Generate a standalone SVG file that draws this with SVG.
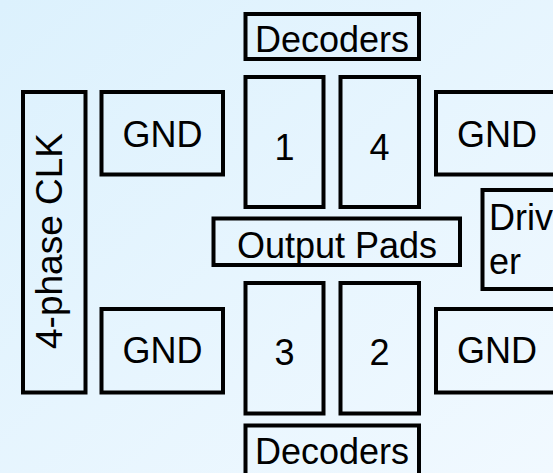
<svg xmlns="http://www.w3.org/2000/svg" width="553" height="473" viewBox="0 0 553 473">
<defs>
<linearGradient id="bg" x1="0" y1="0" x2="1" y2="1">
<stop offset="0" stop-color="#dcf1fd"/>
<stop offset="1" stop-color="#f1f9ff"/>
</linearGradient>
<style>
rect.b{fill:none;stroke:#000;stroke-width:4}
text{font-family:"Liberation Sans",Arial,sans-serif;font-size:36px;fill:#000}
.c{text-anchor:middle}
</style>
</defs>
<rect width="553" height="473" fill="url(#bg)"/>
<g id="decoders-top"><rect class="b" x="245.5" y="14" width="173.5" height="45"/><text class="c" x="332" y="51.5">Decoders</text></g>
<g id="clk"><rect class="b" x="23" y="92" width="62.5" height="300.5"/><text class="c" style="font-size:37px" transform="translate(62,241) rotate(-90)">4-phase CLK</text></g>
<g id="gnd-tl"><rect class="b" x="101.5" y="92" width="121.5" height="82.5"/><text class="c" x="162.5" y="146.5">GND</text></g>
<g id="box1"><rect class="b" x="245.5" y="77" width="78" height="130"/><text class="c" x="284.5" y="160">1</text></g>
<g id="box4"><rect class="b" x="340.5" y="77" width="78.5" height="130"/><text class="c" x="379.5" y="160">4</text></g>
<g id="gnd-tr"><rect class="b" x="436" y="92" width="125" height="82.5"/><text class="c" x="497" y="146.5">GND</text></g>
<g id="driver"><rect class="b" x="482.5" y="190" width="80" height="99"/><text x="489" y="230">Driv</text><text x="489" y="274">er</text></g>
<g id="output-pads"><rect class="b" x="213.5" y="218.5" width="246.5" height="46.5"/><text class="c" x="337" y="258">Output Pads</text></g>
<g id="gnd-bl"><rect class="b" x="101.5" y="309" width="121.5" height="83.5"/><text class="c" x="162.5" y="363">GND</text></g>
<g id="box3"><rect class="b" x="245.5" y="283" width="78" height="130.5"/><text class="c" x="284.5" y="364.5">3</text></g>
<g id="box2"><rect class="b" x="340.5" y="283" width="78.5" height="130.5"/><text class="c" x="379.5" y="364.5">2</text></g>
<g id="gnd-br"><rect class="b" x="436" y="309" width="125" height="83.5"/><text class="c" x="497" y="363">GND</text></g>
<g id="decoders-bottom"><rect class="b" x="245.5" y="425.5" width="173.5" height="50"/><text class="c" x="332" y="463.5">Decoders</text></g>
<g id="connectors"></g>
</svg>
